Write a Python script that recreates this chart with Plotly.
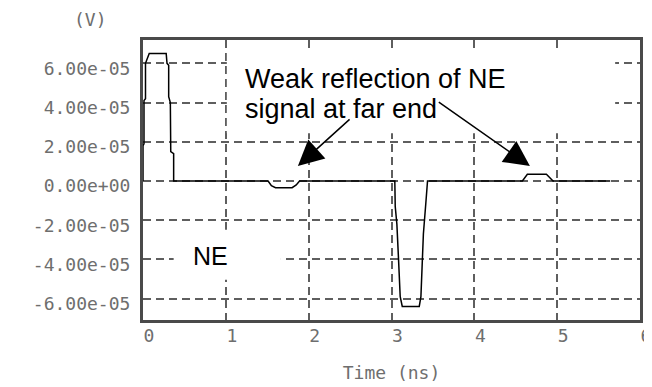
import plotly.graph_objects as go

# ---- data ----
t_ns = [0.0, 0.0, 0.012, 0.012, 0.03, 0.03, 0.075, 0.28, 0.29, 0.31, 0.31, 0.33, 0.335, 0.37, 0.37,
        1.51, 1.55, 1.60, 1.80, 1.85, 1.89,
        3.04, 3.045, 3.065, 3.085, 3.105, 3.13, 3.335, 3.355, 3.385, 3.415, 3.435,
        4.58, 4.64, 4.87, 4.95, 5.64]
v_volts = [0.0, 1.8e-5, 1.9e-5, 4.1e-5, 4.2e-5, 6.0e-5, 6.5e-5, 6.5e-5, 6.0e-5, 5.9e-5, 4.3e-5, 4.0e-5, 1.5e-5, 1.4e-5, 0.0,
           0.0, -2.4e-6, -3.4e-6, -3.4e-6, -2.0e-6, 0.0,
           0.0, -1.3e-5, -2.2e-5, -4.0e-5, -5.9e-5, -6.4e-5, -6.4e-5, -5.9e-5, -2.7e-5, -1.1e-5, 0.0,
           0.0, 3.4e-6, 3.4e-6, 0.0, 0.0]

y_tickvals = [6e-5, 4e-5, 2e-5, 0.0, -2e-5, -4e-5, -6e-5]
y_ticktext = ["6.00e-05", "4.00e-05", "2.00e-05", "0.00e+00", "-2.00e-05", "-4.00e-05", "-6.00e-05"]
x_tickvals = [0, 1, 2, 3, 4, 5, 6]
x_ticktext = ["0", "1", "2", "3", "4", "5", "6"]

GRAY_TXT = "#6e6e6e"
MONO = "DejaVu Sans Mono, Liberation Mono, monospace"
SANS = "Liberation Sans, Arial, sans-serif"

fig = go.Figure()
fig.add_trace(go.Scatter(x=t_ns, y=v_volts, mode="lines",
                         line=dict(color="black", width=1.5),
                         showlegend=False, hoverinfo="skip"))

axis_common = dict(
    showline=True, linecolor="#4a4a4a", linewidth=3, mirror=True,
    showgrid=True, gridcolor="#5e5e5e", gridwidth=1.5, griddash="8px,5px",
    zeroline=False, automargin=False, ticklabeloverflow="allow",
    tickfont=dict(family=MONO, size=18, color=GRAY_TXT),
)

fig.update_xaxes(range=[0, 6], tickmode="array", tickvals=x_tickvals, ticktext=x_ticktext,
                 ticks="", ticklabelstandoff=-3, ticklabelshift=6,
                 title=dict(text="Time (ns)", font=dict(family=MONO, size=18, color=GRAY_TXT), standoff=22),
                 **axis_common)
fig.update_yaxes(range=[-7.09e-5, 7.19e-5], tickmode="array", tickvals=y_tickvals, ticktext=y_ticktext,
                 ticks="outside", ticklen=6, tickcolor="rgba(0,0,0,0)", ticklabelshift=5,
                 **axis_common)

# white masks behind annotation texts (hide grid lines)
fig.add_shape(type="rect", xref="x", yref="y", x0=1.012, x1=5.70, y0=2.44e-5, y1=6.72e-5,
              fillcolor="white", line=dict(width=0), layer="between")
fig.add_shape(type="rect", xref="x", yref="y", x0=0.37, x1=1.665, y0=-5.04e-5, y1=-2.49e-5,
              fillcolor="white", line=dict(width=0), layer="between")

fig.add_annotation(x=1.205, y=5.20e-5, xref="x", yref="y", xanchor="left", yanchor="middle",
                   align="left", showarrow=False, text="Weak reflection of NE",
                   font=dict(family=SANS, size=27, color="black"))
fig.add_annotation(x=1.205, y=3.67e-5, xref="x", yref="y", xanchor="left", yanchor="middle",
                   align="left", showarrow=False, text="signal at far end",
                   font=dict(family=SANS, size=27, color="black"))
fig.add_annotation(x=0.82, y=-3.82e-5, xref="x", yref="y", xanchor="center", yanchor="middle",
                   showarrow=False, text="NE",
                   font=dict(family=SANS, size=25, color="black"))

# arrows
fig.add_annotation(x=1.870, y=7.6e-6, ax=2.512, ay=3.21e-5, xref="x", yref="y", axref="x", ayref="y",
                   text="", showarrow=True, arrowhead=2, arrowsize=3.4, arrowwidth=1.5,
                   arrowcolor="black", standoff=0)
fig.add_annotation(x=4.671, y=7.6e-6, ax=3.553, ay=4.07e-5, xref="x", yref="y", axref="x", ayref="y",
                   text="", showarrow=True, arrowhead=2, arrowsize=3.4, arrowwidth=1.5,
                   arrowcolor="black", standoff=0)

# unit label
fig.add_annotation(x=-0.1066, y=1.075, xref="paper", yref="paper", xanchor="center", yanchor="middle",
                   showarrow=False, text="(V)", font=dict(family=MONO, size=18, color=GRAY_TXT))

# page body has an 8px margin, so the figure is sized/offset to land on the 652x387 view
fig.update_layout(width=644, height=379, margin=dict(l=135, r=12, t=32, b=67),
                  paper_bgcolor="white", plot_bgcolor="white")

fig.write_html("out.html")
